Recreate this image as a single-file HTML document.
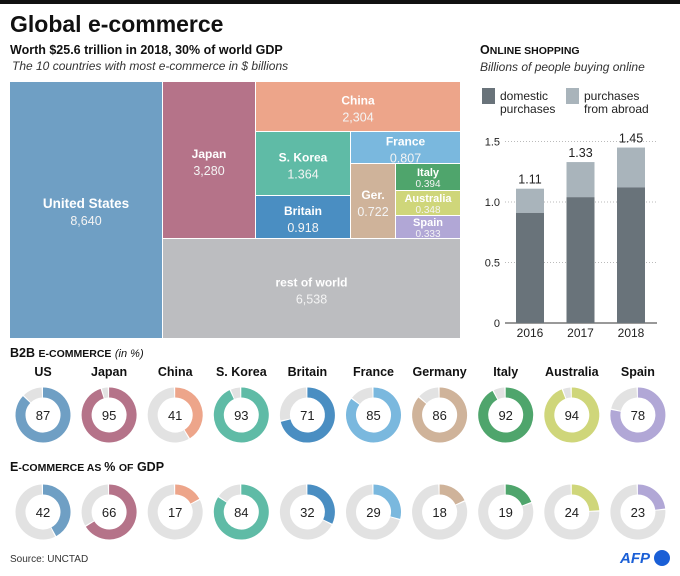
<!DOCTYPE html>
<html><head><meta charset="utf-8"><style>
body{margin:0;width:680px;height:576px;overflow:hidden;background:#fff;font-family:"Liberation Sans",sans-serif;}
svg{position:absolute;left:0;top:0}
</style></head><body>
<svg id="s" width="680" height="576" font-family="Liberation Sans, sans-serif">
<rect x="0" y="0" width="680" height="4" fill="#111"/>
<text x="10" y="32" font-size="23" font-weight="bold" fill="#111">Global e-commerce</text>
<text x="10" y="54" font-size="12.5" font-weight="bold" fill="#111">Worth $25.6 trillion in 2018, 30% of world GDP</text>
<text x="12" y="70" font-size="12" font-style="italic" fill="#333">The 10 countries with most e-commerce in $ billions</text>
<text x="480" y="54" font-size="12.5" font-weight="bold" fill="#111">O<tspan font-size="10.5">NLINE SHOPPING</tspan></text>
<text x="480" y="71" font-size="12" font-style="italic" fill="#333">Billions of people buying online</text>
<g id="tm"></g>
<g id="bc"></g>
<text x="10" y="357" font-size="12.5" font-weight="bold" fill="#111">B2B <tspan font-size="10.5">E-COMMERCE</tspan> <tspan font-weight="normal" font-style="italic" font-size="11">(in %)</tspan></text>
<text x="10" y="471" font-size="12.5" font-weight="bold" fill="#111">E<tspan font-size="10.5">-COMMERCE AS </tspan>% <tspan font-size="10.5">OF</tspan> GDP</text>
<g id="dn"></g>
<text x="10" y="562" font-size="10" fill="#333">Source: UNCTAD</text>
<text x="620" y="563" font-size="15" font-weight="bold" font-style="italic" fill="#1a5fd6">AFP</text>
<circle cx="662" cy="558" r="8" fill="#1a5fd6"/>
</svg>
<script>
const NS="http://www.w3.org/2000/svg";
function mk(p,t,a){const e=document.createElementNS(NS,t);for(const k in a)e.setAttribute(k,a[k]);p.appendChild(e);return e;}
// treemap
const tmNames=["United States","Japan","China","S. Korea","Britain","France","Ger.","Italy","Australia","Spain","rest of world"];
const tmValues=["8,640","3,280","2,304","1.364","0.918","0.807","0.722","0.394","0.348","0.333","6,538"];
const tmColors=["#6f9fc4","#b57389","#eda58a","#5fbba6","#4a8ec2","#7ab8de","#cfb39a","#4fa56c","#cfd67a","#b1a7d6","#bcbdc0"];
const tmRects=[[10,82,152,256],[163,82,92,156],[256,82,204,49],[256,132,94,63],[256,196,94,42],[351,132,109,31],[351,164,44,74],[396,164,64,26],[396,191,64,24],[396,216,64,22],[163,239,297,99]];
const tm=document.getElementById('tm');
tmNames.forEach((n,i)=>{const r=tmRects[i];
 const e=mk(tm,'rect',{x:r[0],y:r[1],width:r[2],height:r[3],fill:tmColors[i]});
 
 
 const small=r[3]<30;const fs=small?11:(i==0?13.5:12);
 const cx=r[0]+r[2]/2, cy=r[1]+r[3]/2;
 const t=mk(tm,'text',{x:cx,y:small?cy-1:cy-2,'text-anchor':'middle','font-size':fs,'font-weight':'bold',fill:'#fff'});t.textContent=n;
 
 
 const v=mk(tm,'text',{x:cx,y:small?cy+10:cy+15,'text-anchor':'middle','font-size':small?10:12.5,fill:'#f4f4f4'});v.textContent=tmValues[i];
 
 
});
// bar chart
const years=["2016","2017","2018"];
const domestic=[0.91,1.04,1.12];
const totals=[1.11,1.33,1.45];
const yTicks=[0,0.5,1.0,1.5];
const bc=document.getElementById('bc');
const y0=323,yk=121, yS=v=>y0-v*yk, x0=516, bw=28, gap=50.5;
yTicks.forEach(t=>{const l=mk(bc,'line',{x1:505,x2:657,y1:yS(t),y2:yS(t),stroke:t==0?'#333':'#bbb','stroke-dasharray':t==0?'':'1,2'});
 
 
 const tx=mk(bc,'text',{x:500,y:yS(t)+4,'text-anchor':'end','font-size':11,fill:'#222'});tx.textContent=t==0?'0':t.toFixed(1);
 
 });
years.forEach((yr,i)=>{const x=x0+i*gap;
 const a=mk(bc,'rect',{x:x,y:yS(totals[i]),width:bw,height:(totals[i]-domestic[i])*yk,fill:'#a9b4bb'});
 
 
 const d=mk(bc,'rect',{x:x,y:yS(domestic[i]),width:bw,height:domestic[i]*yk,fill:'#69737a'});
 
 
 const tl=mk(bc,'text',{x:x+bw/2,y:yS(totals[i])-5,'text-anchor':'middle','font-size':12.5,fill:'#222'});tl.textContent=totals[i].toFixed(2);
 
 
 const xl=mk(bc,'text',{x:x+bw/2,y:337,'text-anchor':'middle','font-size':12,fill:'#222'});xl.textContent=yr;
 
 });
[[482,'#69737a','domestic','purchases'],[566,'#a9b4bb','purchases','from abroad']].forEach(([x,c,a,b])=>{
 const r=mk(bc,'rect',{x:x,y:88,width:13,height:16,fill:c});
 
 
 const t=mk(bc,'text',{x:x+18,y:100,'font-size':12,fill:'#222'});t.textContent=a;
 
 
 const t2=mk(bc,'text',{x:x+18,y:113,'font-size':12,fill:'#222'});t2.textContent=b;
 
 });
// donuts
const countries=["US","Japan","China","S. Korea","Britain","France","Germany","Italy","Australia","Spain"];
const b2b=[87,95,41,93,71,85,86,92,94,78];
const gdp=[42,66,17,84,32,29,18,19,24,23];
const dColors=["#6f9fc4","#b57389","#eda58a","#5fbba6","#4a8ec2","#7ab8de","#cfb39a","#4fa56c","#cfd67a","#b1a7d6"];
const dn=document.getElementById('dn');
function arc(cx,cy,r,a0,a1){const p=a=>[cx+r*Math.sin(a),cy-r*Math.cos(a)];const s=p(a0),e=p(a1);return `M${s[0]},${s[1]}A${r},${r} 0 ${a1-a0>Math.PI?1:0} 1 ${e[0]},${e[1]}`;}
function donut(cx,cy,v,c,nm){const R=22.5,w=10,g=0.05,a=v/100*2*Math.PI;
 const bg=mk(dn,'path',{d:arc(cx,cy,R,a+g,2*Math.PI-g),fill:'none',stroke:'#e2e2e2','stroke-width':w});
 
 
 const fg=mk(dn,'path',{d:arc(cx,cy,R,0,a),fill:'none',stroke:c,'stroke-width':w});
 
 
 const t=mk(dn,'text',{x:cx,y:cy+5,'text-anchor':'middle','font-size':13,fill:'#222'});t.textContent=v;
 
 }
countries.forEach((c,i)=>{const cx=43+i*66.1;
 const t=mk(dn,'text',{x:cx,y:376,'text-anchor':'middle','font-size':12.5,'font-weight':'bold',fill:'#111'});t.textContent=c;
 
 
 const k=c.toLowerCase().replace(/[^a-z]+/g,'-');
 donut(cx,415,b2b[i],dColors[i],'b2b-donut-'+k);
 donut(cx,512,gdp[i],dColors[i],'gdp-donut-'+k);});
</script>
</body></html>
